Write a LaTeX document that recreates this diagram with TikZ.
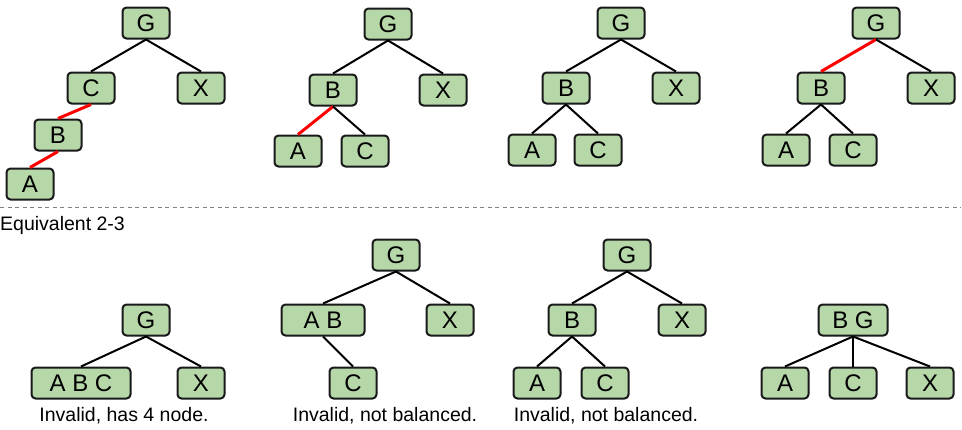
\documentclass[tikz,border=0pt]{standalone}
\usepackage{fontspec}
\setmainfont{Liberation Sans}
\definecolor{nodegreen}{RGB}{182,215,168}
\definecolor{edgered}{RGB}{255,0,0}
\usetikzlibrary{calc, positioning}

\begin{document}
\begin{tikzpicture}[x=1pt, y=-1pt,
  tnd/.style={draw=black!90, line width=2pt, rounded corners=4pt, fill=nodegreen,
    minimum width=47pt, minimum height=31pt, inner sep=1pt,
    font=\fontsize{24}{26}\selectfont},
  edg/.style={line width=2pt, black},
  redg/.style={line width=3pt, edgered},
  lbl/.style={font=\fontsize{19.5}{22}\selectfont, inner sep=0pt},
]
\useasboundingbox (0,0) rectangle (962,429);

% top row, tree 1
\node[tnd] (g1) at (146,23) {G};
\node[tnd] (c1) at (91,88) {C};
\node[tnd] (x1) at (201,88) {X};
\node[tnd] (b1) at (58,135) {B};
\node[tnd] (a1) at (30,184) {A};
\draw[edg] (g1.south) -- (c1.north);
\draw[edg] (g1.south) -- (x1.north);
\draw[redg] (c1.south) -- (b1.north);
\draw[redg] (b1.south) -- (a1.north);

% top row, tree 2
\node[tnd] (g2) at (388,24) {G};
\node[tnd] (b2) at (333,90) {B};
\node[tnd] (x2) at (443,90) {X};
\node[tnd] (a2) at (298,151) {A};
\node[tnd] (c2) at (365,151) {C};
\draw[edg] (g2.south) -- (b2.north);
\draw[edg] (g2.south) -- (x2.north);
\draw[redg] (b2.south) -- (a2.north);
\draw[edg] (b2.south) -- (c2.north);

% top row, tree 3
\node[tnd] (g3) at (621,23) {G};
\node[tnd] (b3) at (566,88) {B};
\node[tnd] (x3) at (676,88) {X};
\node[tnd] (a3) at (532,150) {A};
\node[tnd] (c3) at (598,150) {C};
\draw[edg] (g3.south) -- (b3.north);
\draw[edg] (g3.south) -- (x3.north);
\draw[edg] (b3.south) -- (a3.north);
\draw[edg] (b3.south) -- (c3.north);

% top row, tree 4
\node[tnd] (g4) at (876,23) {G};
\node[tnd] (b4) at (821,88) {B};
\node[tnd] (x4) at (931,88) {X};
\node[tnd] (a4) at (786,150) {A};
\node[tnd] (c4) at (853,150) {C};
\draw[redg] (g4.south) -- (b4.north);
\draw[edg] (g4.south) -- (x4.north);
\draw[edg] (b4.south) -- (a4.north);
\draw[edg] (b4.south) -- (c4.north);

% separator
\coordinate (sepl) at (0,207);
\coordinate (sepr) at (961,207);
\draw[gray, line width=1pt, dash pattern=on 4pt off 3.5pt] (sepl) -- (sepr);
\node[lbl, anchor=west] (eqv) at (0,225) {Equivalent 2-3};

% bottom row, tree 1
\node[tnd] (bg1) at (146,320) {G};
\node[tnd, minimum width=99pt] (babc) at (81,383) {A B C};
\node[tnd] (bx1) at (201,383) {X};
\draw[edg] (bg1.south) -- (babc.north);
\draw[edg] (bg1.south) -- (bx1.north);
\node[lbl] (inv1) at (124,416) {Invalid, has 4 node.};

% bottom row, tree 2
\node[tnd] (bg2) at (396,255) {G};
\node[tnd, minimum width=83pt] (bab) at (323,320) {A B};
\node[tnd] (bx2) at (450,320) {X};
\node[tnd] (bc2) at (353,383) {C};
\draw[edg] (bg2.south) -- (bab.north);
\draw[edg] (bg2.south) -- (bx2.north);
\draw[edg] (bab.south) -- (bc2.north);
\node[lbl] (inv2) at (385,416) {Invalid, not balanced.};

% bottom row, tree 3
\node[tnd] (bg3) at (627,255) {G};
\node[tnd] (bb3) at (572,320) {B};
\node[tnd] (bx3) at (682,320) {X};
\node[tnd] (ba3) at (537,383) {A};
\node[tnd] (bc3) at (605,383) {C};
\draw[edg] (bg3.south) -- (bb3.north);
\draw[edg] (bg3.south) -- (bx3.north);
\draw[edg] (bb3.south) -- (ba3.north);
\draw[edg] (bb3.south) -- (bc3.north);
\node[lbl] (inv3) at (606,416) {Invalid, not balanced.};

% bottom row, tree 4
\node[tnd, minimum width=69pt] (bbg) at (853,320) {B G};
\node[tnd] (ba4) at (785,383) {A};
\node[tnd] (bc4) at (853,383) {C};
\node[tnd] (bx4) at (930,383) {X};
\draw[edg] (bbg.south) -- (ba4.north);
\draw[edg] (bbg.south) -- (bc4.north);
\draw[edg] (bbg.south) -- (bx4.north);
\end{tikzpicture}
\end{document}
